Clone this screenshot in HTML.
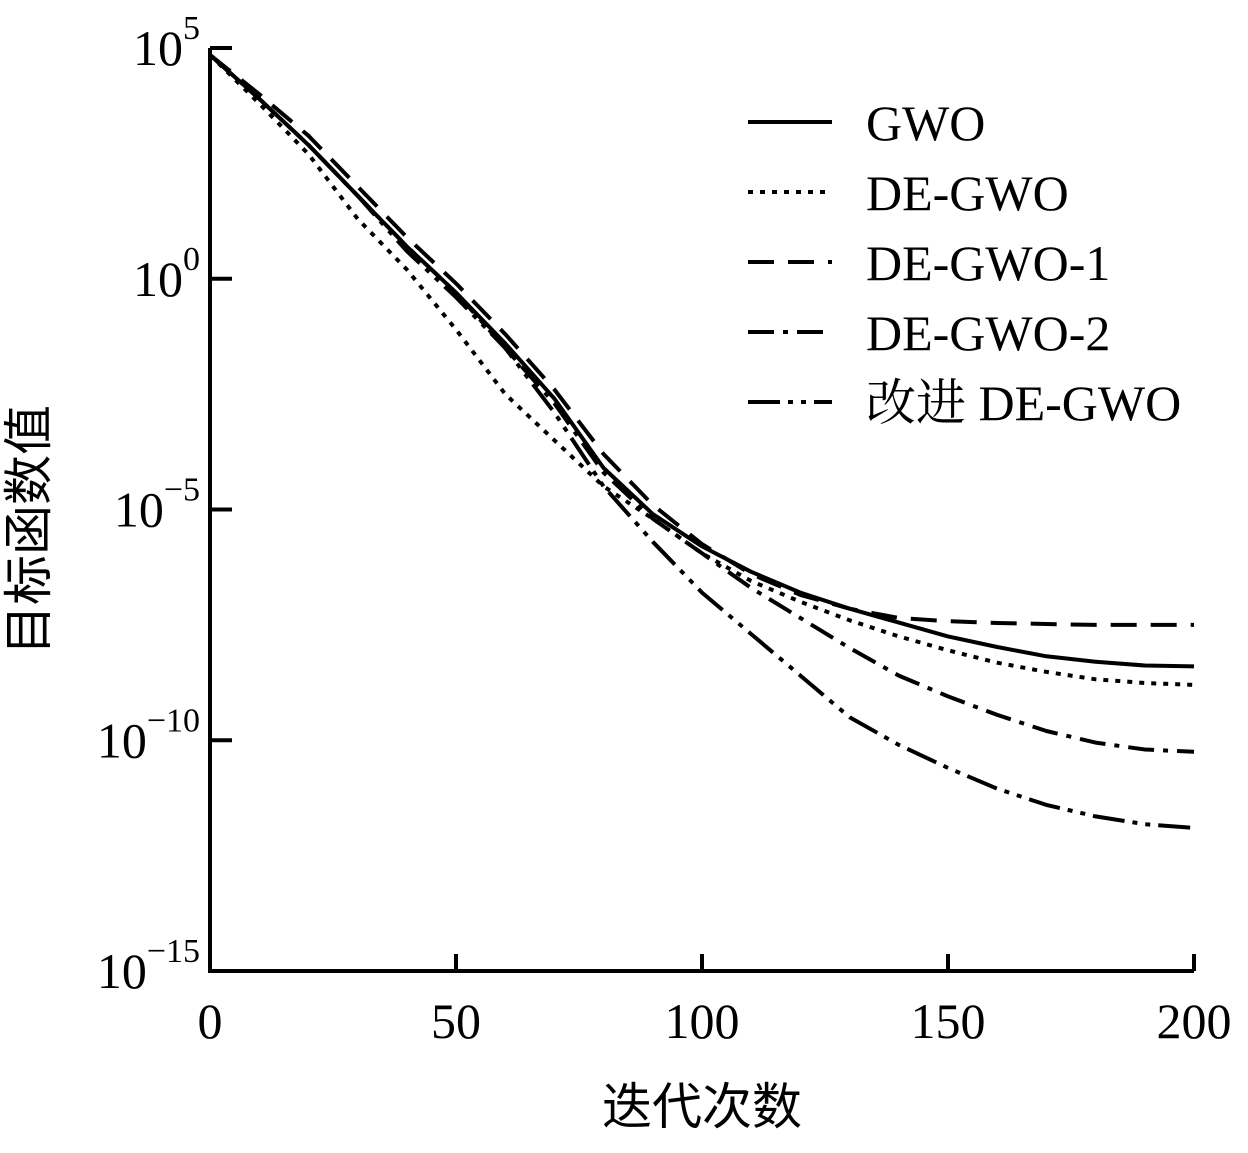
<!DOCTYPE html>
<html><head><meta charset="utf-8"><style>
body{margin:0;background:#fff;}
text{font-family:"Liberation Serif","Noto Serif CJK SC",serif;fill:#000;}
</style></head><body>
<svg id="chart" width="1248" height="1148" viewBox="0 0 1248 1148" xmlns="http://www.w3.org/2000/svg">
<g id="axes"></g><g id="series"></g><g id="legend"></g>
<text x="702" y="1124" font-size="50" text-anchor="middle" style="font-family:'Noto Sans CJK SC',sans-serif">迭代次数</text>
<text transform="translate(46,530) rotate(-90)" font-size="50" text-anchor="middle" style="font-family:'Noto Sans CJK SC',sans-serif">目标函数值</text>
</svg>
<script>
const iterations=[0,10,20,30,40,50,60,70,80,90,100,110,120,130,140,150,160,170,180,190,200];
const gwo=[4.85,3.9,2.9,1.8,0.7,-0.3,-1.4,-2.6,-4.1,-5.1,-5.8,-6.35,-6.8,-7.15,-7.45,-7.75,-7.98,-8.18,-8.3,-8.38,-8.4];
const deGwo=[4.85,3.8,2.7,1.3,0.2,-1.1,-2.5,-3.5,-4.5,-5.2,-5.95,-6.55,-7.0,-7.4,-7.75,-8.05,-8.32,-8.52,-8.68,-8.76,-8.8];
const deGwo1=[4.85,4.0,3.1,2.0,0.9,-0.1,-1.2,-2.4,-3.8,-4.9,-5.75,-6.4,-6.85,-7.15,-7.35,-7.42,-7.46,-7.48,-7.5,-7.5,-7.5];
const deGwo2=[4.85,3.9,2.9,1.8,0.7,-0.3,-1.5,-2.7,-4.2,-5.2,-5.95,-6.7,-7.35,-8.0,-8.6,-9.05,-9.45,-9.8,-10.05,-10.2,-10.25];
const improved=[4.85,3.9,2.9,1.8,0.6,-0.4,-1.5,-2.9,-4.5,-5.7,-6.8,-7.7,-8.6,-9.5,-10.1,-10.6,-11.05,-11.4,-11.65,-11.82,-11.9];
const seriesNames=["GWO","DE-GWO","DE-GWO-1","DE-GWO-2","改进 DE-GWO"];
const xTicks=[0,50,100,150,200];
const yTicks=[5,0,-5,-10,-15];
const NS="http://www.w3.org/2000/svg";
const X0=210,X1=1194,Y0=48,Y1=971;
const xs=v=>X0+(v-0)/(200)*(X1-X0);
const ys=v=>Y0+(5-v)/20*(Y1-Y0);
function mk(tag,attrs,parent){const e=document.createElementNS(NS,tag);for(const k in attrs)e.setAttribute(k,attrs[k]);parent.appendChild(e);return e;}
const axes=document.getElementById('axes');
let a=mk('path',{d:`M${X0},${Y0} V${Y1} H${X1}`,fill:'none',stroke:'#000','stroke-width':4},axes);


xTicks.forEach(t=>{
  const x=xs(t);
  if(t>0){const l=mk('line',{x1:x,y1:Y1,x2:x,y2:Y1-17,stroke:'#000','stroke-width':4},axes);
  
  }
  const tx=mk('text',{x:x,y:1038,'font-size':50,'text-anchor':'middle'},axes);
  tx.textContent=t;
  
  
});
yTicks.forEach(t=>{
  const y=ys(t);
  const l=mk('line',{x1:X0,y1:y,x2:X0+22,y2:y,stroke:'#000','stroke-width':4},axes);
  
  
  const tx=mk('text',{x:200,y:y+17,'font-size':50,'text-anchor':'end'},axes);
  
  
  const t1=mk('tspan',{},tx);t1.textContent='10';
  const t2=mk('tspan',{dy:-26,'font-size':34},tx);t2.textContent=(t<0?'\u2212':'')+Math.abs(t);
});
const dashes=["none","5 7","26 14","26 9 5 9","32 8 5 8 5 8"];
const data=[gwo,deGwo,deGwo1,deGwo2,improved];
const sg=document.getElementById('series');
data.forEach((s,i)=>{
  const d=s.map((v,j)=>(j?'L':'M')+xs(iterations[j]).toFixed(1)+','+ys(v).toFixed(1)).join(' ');
  const p=mk('path',{d:d,fill:'none',stroke:'#000','stroke-width':4,'stroke-linejoin':'round'},sg);
  if(dashes[i]!=='none')p.setAttribute('stroke-dasharray',dashes[i]);
  
  
});
const lg=document.getElementById('legend');
seriesNames.forEach((n,i)=>{
  const y=122+i*70;
  const l=mk('line',{x1:748,y1:y,x2:832,y2:y,stroke:'#000','stroke-width':4},lg);
  if(dashes[i]!=='none')l.setAttribute('stroke-dasharray',dashes[i]);
  
  
  const t=mk('text',{x:866,y:y+18,'font-size':50},lg);
  t.textContent=n;
  
  
});
</script>
</body></html>
